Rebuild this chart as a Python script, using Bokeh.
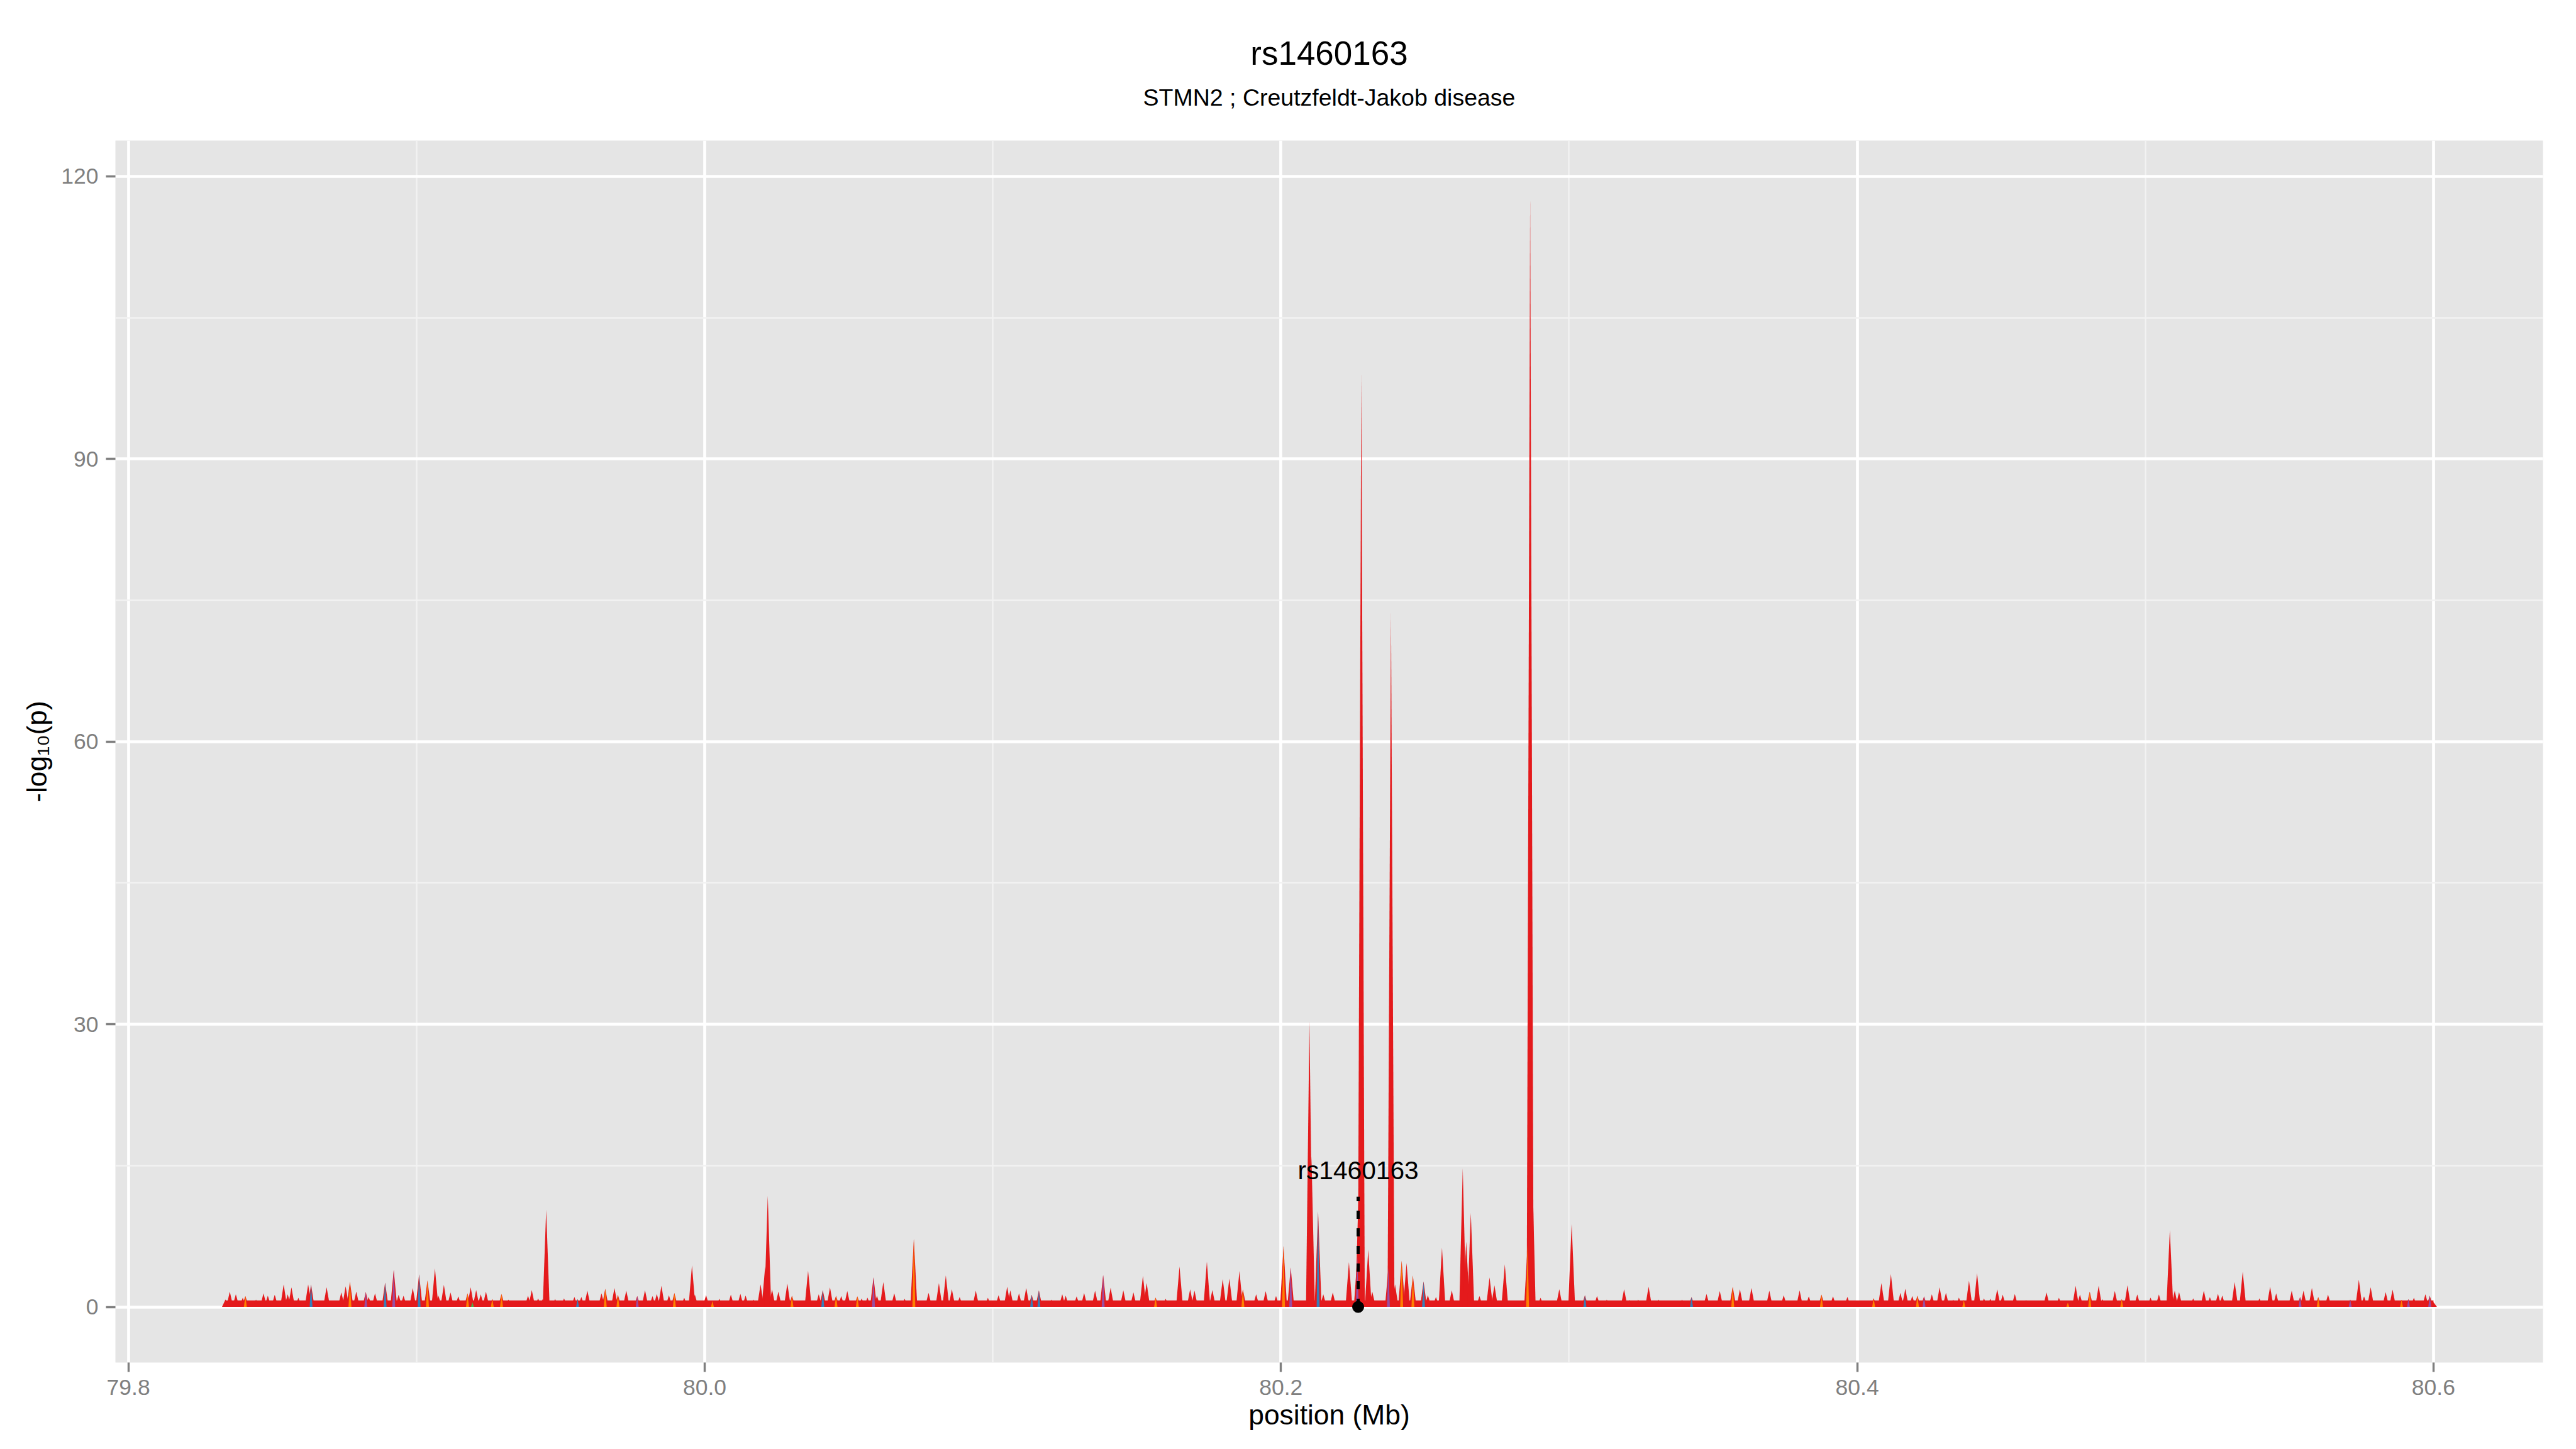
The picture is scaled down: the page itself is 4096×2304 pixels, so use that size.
from bokeh.plotting import figure
from bokeh.models import Range1d, FixedTicker, PrintfTickFormatter, Title
from bokeh.embed import file_html
from bokeh.resources import INLINE
from bokeh.core.properties import value

# ---------------- data ----------------
chart_title = "rs1460163"
chart_subtitle = "STMN2 ; Creutzfeldt-Jakob disease"
x_label = "position (Mb)"
y_label = "-log\u2081\u2080(p)"

x_ticks = [79.8, 80.0, 80.2, 80.4, 80.6]
x_minor = [79.9, 80.1, 80.3, 80.5]
y_ticks = [0, 30, 60, 90, 120]
y_minor = [15, 45, 75, 105]

region_start = 79.8337
region_end = 80.6000
noise_floor = 0.7

snp_name = "rs1460163"
snp_pos = 80.2268
snp_line_top = 11.7
snp_label_y = 14.5

spike_pos = [
    79.8337, 79.8352, 79.8373, 79.8397, 79.8406, 79.8443, 79.8469, 79.8484, 79.8508, 79.8539,
    79.8553, 79.8566, 79.8590, 79.8624, 79.8634, 79.8649, 79.8688, 79.8701, 79.8739, 79.8754,
    79.8769, 79.8791, 79.8824, 79.8834, 79.8856, 79.8891, 79.8921, 79.8938, 79.8955, 79.8987,
    79.9009, 79.9038, 79.9064, 79.9076, 79.9095, 79.9118, 79.9145, 79.9177, 79.9188, 79.9194,
    79.9207, 79.9223, 79.9241, 79.9263, 79.9295, 79.9319, 79.9355, 79.9372, 79.9387, 79.9400,
    79.9422, 79.9438, 79.9450, 79.9481, 79.9512, 79.9548, 79.9559, 79.9572, 79.9593, 79.9642,
    79.9655, 79.9687, 79.9699, 79.9728, 79.9750, 79.9766, 79.9793, 79.9819, 79.9834, 79.9850,
    79.9876, 79.9895, 79.9929, 79.9956, 79.9966, 80.0005, 80.0027, 80.0051, 80.0091, 80.0124,
    80.0142, 80.0170, 80.0194, 80.0210, 80.0219, 80.0234, 80.0256, 80.0287, 80.0303, 80.0359,
    80.0396, 80.0410, 80.0435, 80.0456, 80.0474, 80.0495, 80.0530, 80.0545, 80.0565, 80.0586,
    80.0598, 80.0620, 80.0658, 80.0694, 80.0726, 80.0777, 80.0813, 80.0837, 80.0858, 80.0885,
    80.0941, 80.0983, 80.1010, 80.1020, 80.1050, 80.1061, 80.1091, 80.1116, 80.1135, 80.1160,
    80.1203, 80.1241, 80.1253, 80.1291, 80.1317, 80.1355, 80.1383, 80.1409, 80.1453, 80.1488,
    80.1521, 80.1534, 80.1565, 80.1600, 80.1648, 80.1685, 80.1700, 80.1743, 80.1762, 80.1798,
    80.1821, 80.1856, 80.1868, 80.1914, 80.1947, 80.1983, 80.2009, 80.2034, 80.2099, 80.2106,
    80.2129, 80.2147, 80.2180, 80.2201, 80.2236, 80.2265, 80.2270, 80.2279, 80.2303, 80.2317,
    80.2373, 80.2382, 80.2396, 80.2419, 80.2436, 80.2458, 80.2495, 80.2510, 80.2538, 80.2559,
    80.2593, 80.2631, 80.2643, 80.2659, 80.2689, 80.2724, 80.2741, 80.2777, 80.2816, 80.2856,
    80.2865, 80.2872, 80.2901, 80.2966, 80.3009, 80.3055, 80.3097, 80.3131, 80.3191, 80.3209,
    80.3240, 80.3276, 80.3311, 80.3392, 80.3425, 80.3477, 80.3523, 80.3568, 80.3593, 80.3633,
    80.3695, 80.3745, 80.3800, 80.3832, 80.3876, 80.3916, 80.3966, 80.3999, 80.4057, 80.4084,
    80.4117, 80.4150, 80.4167, 80.4191, 80.4209, 80.4232, 80.4259, 80.4286, 80.4308, 80.4333,
    80.4353, 80.4370, 80.4388, 80.4416, 80.4440, 80.4462, 80.4486, 80.4505, 80.4547, 80.4586,
    80.4609, 80.4632, 80.4657, 80.4700, 80.4731, 80.4758, 80.4773, 80.4807, 80.4838, 80.4851,
    80.4894, 80.4918, 80.4938, 80.4972, 80.5018, 80.5047, 80.5085, 80.5102, 80.5117, 80.5166,
    80.5203, 80.5224, 80.5252, 80.5267, 80.5310, 80.5338, 80.5367, 80.5396, 80.5433, 80.5454,
    80.5508, 80.5537, 80.5549, 80.5578, 80.5600, 80.5634, 80.5670, 80.5711, 80.5741, 80.5759,
    80.5782, 80.5834, 80.5858, 80.5889, 80.5913, 80.5932, 80.5972, 80.5987, 80.6000,
]

spike_val = [
    0.80, 1.63, 1.35, 0.97, 1.16, 0.78, 1.44, 1.19, 1.29, 2.39,
    1.35, 2.07, 0.97, 2.39, 2.39, 0.49, 2.10, 0.68, 1.54, 2.20,
    2.67, 1.63, 1.59, 1.06, 1.44, 2.58, 3.94, 1.29, 1.19, 2.01,
    3.47, 2.81, 4.10, 1.21, 2.35, 1.54, 1.12, 1.44, 2.10, 0.49,
    1.80, 1.35, 1.63, 0.85, 1.38, 0.78, 0.44, 0.51, 1.19, 1.80,
    0.91, 0.83, 10.31, 0.85, 0.91, 1.06, 0.83, 1.06, 1.73, 1.44,
    1.92, 2.01, 1.29, 1.73, 0.68, 1.16, 1.78, 1.16, 1.38, 2.24,
    1.25, 1.48, 0.97, 4.42, 1.31, 1.25, 0.63, 0.87, 1.31, 1.40,
    1.21, 0.78, 2.39, 4.29, 11.81, 1.86, 1.63, 2.48, 1.19, 3.85,
    1.35, 1.80, 2.07, 1.19, 1.16, 1.69, 1.12, 0.91, 1.00, 3.15,
    1.19, 2.64, 1.44, 0.87, 7.22, 1.50, 2.52, 3.34, 1.88, 1.06,
    1.73, 0.97, 0.64, 1.25, 2.16, 1.76, 1.44, 2.01, 1.29, 1.76,
    0.78, 1.35, 1.19, 1.12, 1.48, 1.73, 3.39, 2.05, 1.76, 1.54,
    3.30, 2.54, 1.00, 0.87, 4.29, 1.88, 1.73, 4.82, 1.80, 2.96,
    3.01, 3.81, 1.86, 1.35, 1.67, 1.16, 6.47, 4.19, 30.30, 16.00,
    10.16, 1.35, 1.54, 0.68, 4.76, 5.30, 12.70, 99.10, 6.09, 1.63,
    4.19, 73.70, 2.39, 4.89, 4.66, 3.34, 2.71, 1.25, 1.06, 6.28,
    1.76, 14.71, 6.94, 9.97, 1.16, 3.15, 2.29, 4.51, 0.30, 6.56,
    117.90, 15.50, 0.97, 1.88, 8.80, 1.25, 1.16, 0.78, 1.88, 0.74,
    0.78, 2.14, 0.78, 0.78, 1.04, 1.38, 1.69, 2.14, 1.88, 2.01,
    1.73, 1.25, 1.76, 1.12, 1.31, 1.12, 1.06, 0.68, 0.93, 2.52,
    3.49, 1.50, 1.92, 1.16, 1.19, 1.12, 1.35, 2.10, 1.50, 0.78,
    1.00, 0.74, 2.77, 3.58, 0.91, 0.87, 1.88, 1.31, 1.38, 0.74,
    0.46, 0.63, 1.54, 0.97, 0.46, 2.24, 1.31, 1.63, 2.24, 0.83,
    1.69, 0.82, 2.29, 1.33, 1.00, 1.33, 8.17, 1.73, 1.57, 0.91,
    1.73, 1.04, 1.40, 1.21, 2.64, 3.75, 0.55, 0.91, 2.14, 1.44,
    1.73, 1.06, 1.73, 2.01, 1.04, 1.31, 0.63, 0.78, 2.90, 1.12,
    2.10, 1.57, 1.84, 0.74, 0.82, 0.97, 1.35, 1.19, 0.50,
]

spike_group = [
    "r", "r", "r", "r", "o", "r", "r", "r", "r", "r",
    "r", "r", "r", "r", "b", "r", "r", "r", "r", "r",
    "o", "r", "p", "r", "r", "b", "p", "r", "r", "r",
    "b", "o", "r", "r", "r", "r", "r", "o", "r", "g",
    "r", "r", "r", "o", "o", "r", "r", "r", "r", "r",
    "r", "r", "r", "r", "r", "r", "b", "r", "r", "r",
    "o", "r", "o", "r", "r", "p", "r", "r", "r", "r",
    "r", "o", "r", "r", "r", "r", "o", "r", "r", "r",
    "r", "r", "r", "r", "r", "r", "r", "r", "o", "r",
    "r", "b", "r", "o", "r", "r", "o", "r", "r", "p",
    "r", "r", "r", "r", "o", "r", "r", "r", "r", "r",
    "r", "r", "r", "r", "r", "r", "r", "r", "b", "b",
    "r", "r", "r", "r", "r", "r", "p", "r", "r", "r",
    "r", "r", "o", "r", "r", "r", "r", "r", "r", "r",
    "r", "r", "o", "r", "r", "r", "o", "p", "r", "r",
    "b", "r", "r", "r", "r", "p", "r", "r", "r", "r",
    "p", "r", "r", "o", "r", "o", "b", "r", "r", "r",
    "r", "r", "r", "r", "r", "r", "r", "r", "r", "o",
    "r", "r", "r", "r", "r", "b", "r", "r", "r", "r",
    "r", "r", "r", "r", "b", "r", "r", "o", "r", "r",
    "r", "r", "r", "r", "o", "r", "r", "r", "o", "r",
    "r", "r", "r", "r", "o", "p", "r", "r", "r", "r",
    "r", "o", "r", "r", "r", "r", "r", "r", "r", "r",
    "r", "r", "r", "r", "o", "r", "r", "o", "r", "r",
    "r", "o", "r", "r", "r", "r", "r", "r", "r", "r",
    "r", "r", "r", "r", "r", "r", "r", "r", "r", "r",
    "r", "p", "r", "r", "o", "r", "r", "p", "r", "r",
    "r", "r", "r", "o", "p", "r", "r", "p", "r",
]

group_colors = {"r": "#E41A1C", "o": "#FF7F00", "b": "#377EB8", "p": "#984EA3", "g": "#4DAF4A"}

# ---------------- figure ----------------
FONT = "Liberation Sans"

p = figure(
    frame_width=3860, frame_height=1943,
    min_border_left=183, min_border_right=53, min_border_top=223, min_border_bottom=138,
    x_range=Range1d(79.7955, 80.6380), y_range=Range1d(-5.9, 123.8),
    output_backend="svg", toolbar_location=None,
)
p.background_fill_color = "#E5E5E5"
p.border_fill_color = "white"
p.outline_line_color = None

# title block: an empty spacer next to the panel, then subtitle, then title
spacer = Title(text=" ", text_font_size="1px", standoff=40)
sub = Title(text=chart_subtitle, align="center", text_font=FONT, text_font_size="37.5px",
            text_font_style="normal", text_color="black", standoff=10)
main = Title(text=chart_title, align="center", text_font=FONT, text_font_size="53px",
             text_font_style="normal", text_color="black", standoff=25)
p.add_layout(spacer, "above")
p.add_layout(sub, "above")
p.add_layout(main, "above")

p.xaxis.ticker = FixedTicker(ticks=x_ticks, minor_ticks=x_minor)
p.yaxis.ticker = FixedTicker(ticks=y_ticks, minor_ticks=y_minor)
p.xaxis.formatter = PrintfTickFormatter(format="%.1f")

for g in (p.xgrid, p.ygrid):
    g.grid_line_color = "white"
    g.grid_line_width = 4.7
    g.minor_grid_line_color = "#F2F2F2"
    g.minor_grid_line_width = 2.4

for ax in (p.xaxis, p.yaxis):
    ax.axis_line_color = None
    ax.major_tick_line_color = "#7F7F7F"
    ax.major_tick_line_width = 3.4
    ax.major_tick_out = 15
    ax.major_tick_in = 0
    ax.minor_tick_line_color = None
    ax.major_label_text_color = "#7F7F7F"
    ax.major_label_text_font = FONT
    ax.major_label_text_font_size = "35.5px"
    ax.major_label_standoff = 12
    ax.axis_label_text_font = FONT
    ax.axis_label_text_font_size = "44.4px"
    ax.axis_label_text_font_style = "normal"
    ax.axis_label_text_color = "black"

p.xaxis.axis_label = x_label
p.yaxis.axis_label = y_label
p.xaxis.axis_label_standoff = 4
p.yaxis.axis_label_standoff = 11

# base band of dense low-level signal
p.quad(left=[region_start], right=[region_end], bottom=[0], top=[noise_floor],
       fill_color=group_colors["r"], line_color=None)

# each SNP drawn as a narrow spike; red first, coloured groups on top
def spikes(keys, hw):
    xs, ys, cs = [], [], []
    for x, v, g in zip(spike_pos, spike_val, spike_group):
        if g in keys:
            xs.append([x - hw, x, x + hw])
            ys.append([0, v, 0])
            cs.append(group_colors[g])
    return xs, ys, cs

xs, ys, cs = spikes({"r", "o", "b", "p", "g"}, 0.0012)
p.patches(xs=xs, ys=ys, fill_color=group_colors["r"], line_color=None)
xs, ys, cs = spikes({"o", "b", "p", "g"}, 0.0005)
p.patches(xs=xs, ys=ys, fill_color=cs, line_color=None)

# highlighted SNP
p.segment(x0=[snp_pos], y0=[0], x1=[snp_pos], y1=[snp_line_top],
          line_color="black", line_width=5, line_dash="13 15")
p.scatter(x=[snp_pos], y=[0], size=18, color="black")
p.text(x=[snp_pos], y=[snp_label_y], text=[snp_name], text_font=value(FONT),
       text_font_size="40.7px", text_align="center", text_baseline="middle", text_color="black")

open("out.html", "w").write(file_html(p, INLINE))
